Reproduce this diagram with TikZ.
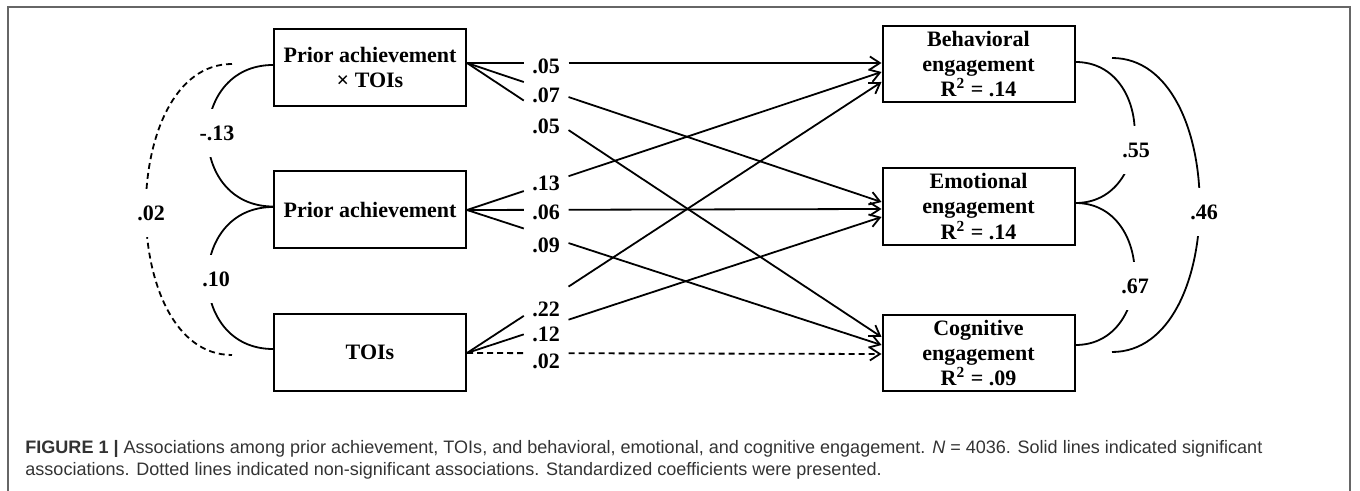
\documentclass[tikz,border=0pt]{standalone}
\usepackage{fontspec}
\setmainfont{Liberation Serif}
\setsansfont{Liberation Sans}
\usetikzlibrary{arrows.meta,calc}
\begin{document}
\begin{tikzpicture}[x=0.5pt,y=-0.5pt,
  box/.style={draw, line width=1pt, minimum width=96pt, minimum height=38.2pt,
    align=center, inner sep=0pt, font=\fontsize{11}{12.6}\selectfont\bfseries},
  lab/.style={inner sep=0pt, font=\fontsize{11}{12.6}\selectfont\bfseries},
  gaplab/.style={lab, fill=white, inner xsep=3pt, inner ysep=8.5pt},
  pth/.style={line width=0.9pt},
  arr/.style={line width=0.9pt, -{Straight Barb[length=5pt,width=6.5pt]}},
  cov/.style={line width=0.9pt},
  dsh/.style={dash pattern=on 3pt off 2pt},
  captxt/.style={anchor=base west, inner sep=0pt, text=black!80,
    font=\sffamily\fontsize{9.02}{10}\selectfont}
]
\useasboundingbox (0,0) rectangle (1360,491);
% frame
\draw[black!60, line width=1pt] (8,491) -- (8,7) -- (1350,7) -- (1350,491);

% boxes
\node[box] (b1) at (370,67.5) {Prior achievement\\× TOIs};
\node[box] (b2) at (370,209.5) {Prior achievement};
\node[box] (b3) at (370,352.5) {TOIs};
\node[box] (e1) at (978.5,64) {Behavioral\\engagement\\R\textsuperscript{2} = .14};
\node[box] (e2) at (978.5,206.5) {Emotional\\engagement\\R\textsuperscript{2} = .14};
\node[box] (e3) at (978.5,353) {Cognitive\\engagement\\R\textsuperscript{2} = .09};

% start and end points
\coordinate (s1) at ($(b1.east)+(0,-4.5)$);
\coordinate (s2) at ($(b2.east)+(0,0.5)$);
\coordinate (s3) at ($(b3.east)+(0,0.5)$);
\coordinate (t11) at ($(e1.west)+(0,-1)$);
\coordinate (t12) at ($(e1.west)+(0,8)$);
\coordinate (t13) at ($(e1.west)+(0,18)$);
\coordinate (t21) at ($(e2.west)+(0,-4.5)$);
\coordinate (t22) at ($(e2.west)+(0,2.5)$);
\coordinate (t23) at ($(e2.west)+(0,10.5)$);
\coordinate (t31) at ($(e3.west)+(0,-16)$);
\coordinate (t32) at ($(e3.west)+(0,-8)$);
\coordinate (t33) at ($(e3.west)+(0,1)$);

% paths (broken around the coefficient labels)
\foreach \s/\t/\st in {s1/t11/solid, s1/t21/solid, s1/t31/solid,
                      s2/t12/solid, s2/t22/solid, s2/t32/solid,
                      s3/t13/solid, s3/t23/solid, s3/t33/dsh}{
  \draw[pth,\st] (\s) -- ($(\s)!0.137!(\t)$);
  \draw[arr,\st] ($(\s)!0.245!(\t)$) -- (\t);
}

% coefficient labels
\node[lab] (l1) at (546,66) {.05};
\node[lab] (l2) at (546,95) {.07};
\node[lab] (l3) at (546,126) {.05};
\node[lab] (l4) at (546,183) {.13};
\node[lab] (l5) at (546,212) {.06};
\node[lab] (l6) at (546,245) {.09};
\node[lab] (l7) at (546,309) {.22};
\node[lab] (l8) at (546,334) {.12};
\node[lab] (l9) at (546,361) {.02};

% covariances, left
\draw[cov] ($(b1.west)+(0,-2.5)$) .. controls +(-87,0) and +(-87,0) .. ($(b2.west)+(0,-3)$);
\draw[cov] ($(b2.west)+(0,-2.5)$) .. controls +(-87,0) and +(-87,0) .. ($(b3.west)+(0,-3.5)$);
\coordinate (d1) at (232,64);
\coordinate (d2) at (232,355);
\draw[cov,dsh] (d1) .. controls +(-115,0) and +(-115,0) .. (d2);
\node[gaplab] (c1) at (217,133) {-.13};
\node[gaplab] (c2) at (216,279) {.10};
\node[gaplab] (c3) at (151,213) {.02};

% covariances, right
\draw[cov] ($(e1.east)+(0,-2)$) .. controls +(79,0) and +(79,0) .. ($(e2.east)+(0,-3.5)$);
\draw[cov] ($(e2.east)+(0,-3.5)$) .. controls +(79,0) and +(79,0) .. ($(e3.east)+(0,-8)$);
\coordinate (r1) at (1112,58);
\coordinate (r2) at (1112,352);
\draw[cov] (r1) .. controls +(117,0) and +(117,0) .. (r2);
\node[gaplab] (c4) at (1136,150) {.55};
\node[gaplab] (c5) at (1135,286) {.67};
\node[gaplab] (c6) at (1204,212) {.46};

% caption
\node[captxt] (cap1) at (25,453) {\textbf{FIGURE 1 |} Associations among prior achievement, TOIs, and behavioral, emotional, and cognitive engagement. \textit{N} = 4036. Solid lines indicated significant};
\node[captxt] (cap2) at (25,475) {associations. Dotted lines indicated non-significant associations. Standardized coefficients were presented.};
\end{tikzpicture}
\end{document}
